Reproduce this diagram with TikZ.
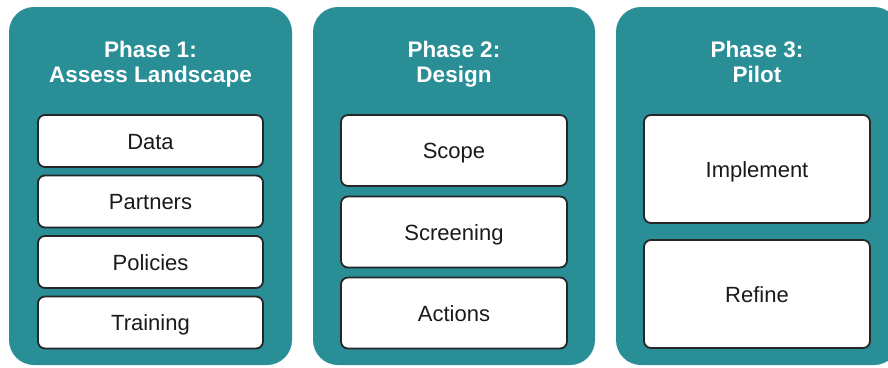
\documentclass[tikz,border=0pt]{standalone}
\usepackage{fontspec}
\setmainfont{Liberation Sans}
\definecolor{panelteal}{RGB}{42,142,151}
\definecolor{boxline}{RGB}{38,38,38}
\definecolor{boxtext}{RGB}{26,26,26}
\tikzset{
  panel/.style={fill=panelteal, draw=none, rounded corners=25pt, minimum height=358pt, inner sep=0pt},
  ptitle/.style={text=white, font=\bfseries\fontsize{22.5}{26}\selectfont, anchor=base, inner sep=0pt},
  stepbox/.style={draw=boxline, line width=1.8pt, fill=white, rounded corners=7pt, minimum width=226pt,
    text=boxtext, font=\fontsize{22}{26}\selectfont, text height=16pt, text depth=0pt, inner sep=0pt},
}
\begin{document}
\begin{tikzpicture}[x=1pt,y=-1pt]
\useasboundingbox (0,0) rectangle (888,367);
\clip (0,0) rectangle (888,367);
% panels
\node[panel, minimum width=283pt] (p1) at (150.5,186) {};
\node[panel, minimum width=282pt] (p2) at (454,186) {};
\node[panel, minimum width=283pt] (p3) at (757.5,186) {};
% titles
\node[ptitle] (t1a) at (150.5,57.5) {Phase 1:};
\node[ptitle] (t1b) at (150.5,82.8) {Assess Landscape};
\node[ptitle] (t2a) at (454,57.5) {Phase 2:};
\node[ptitle] (t2b) at (454,82.8) {Design};
\node[ptitle] (t3a) at (757,57.5) {Phase 3:};
\node[ptitle] (t3b) at (757,82.8) {Pilot};
% phase 1 boxes
\node[stepbox, minimum width=225pt, minimum height=52pt] (data) at (150.5,141) {Data};
\node[stepbox, minimum width=225pt, minimum height=52pt] (partners) at (150.5,201.5) {Partners};
\node[stepbox, minimum width=225pt, minimum height=52pt] (policies) at (150.5,262) {Policies};
\node[stepbox, minimum width=225pt, minimum height=52pt] (training) at (150.5,322.5) {Training};
% phase 2 boxes
\node[stepbox, minimum height=71pt] (scope) at (454,150.5) {Scope};
\node[stepbox, minimum height=71pt] (screening) at (454,232) {Screening};
\node[stepbox, minimum height=71pt] (actions) at (454,313) {Actions};
% phase 3 boxes
\node[stepbox, minimum height=108pt] (implement) at (757,169) {Implement};
\node[stepbox, minimum height=108pt] (refine) at (757,294) {Refine};
\end{tikzpicture}
\end{document}
